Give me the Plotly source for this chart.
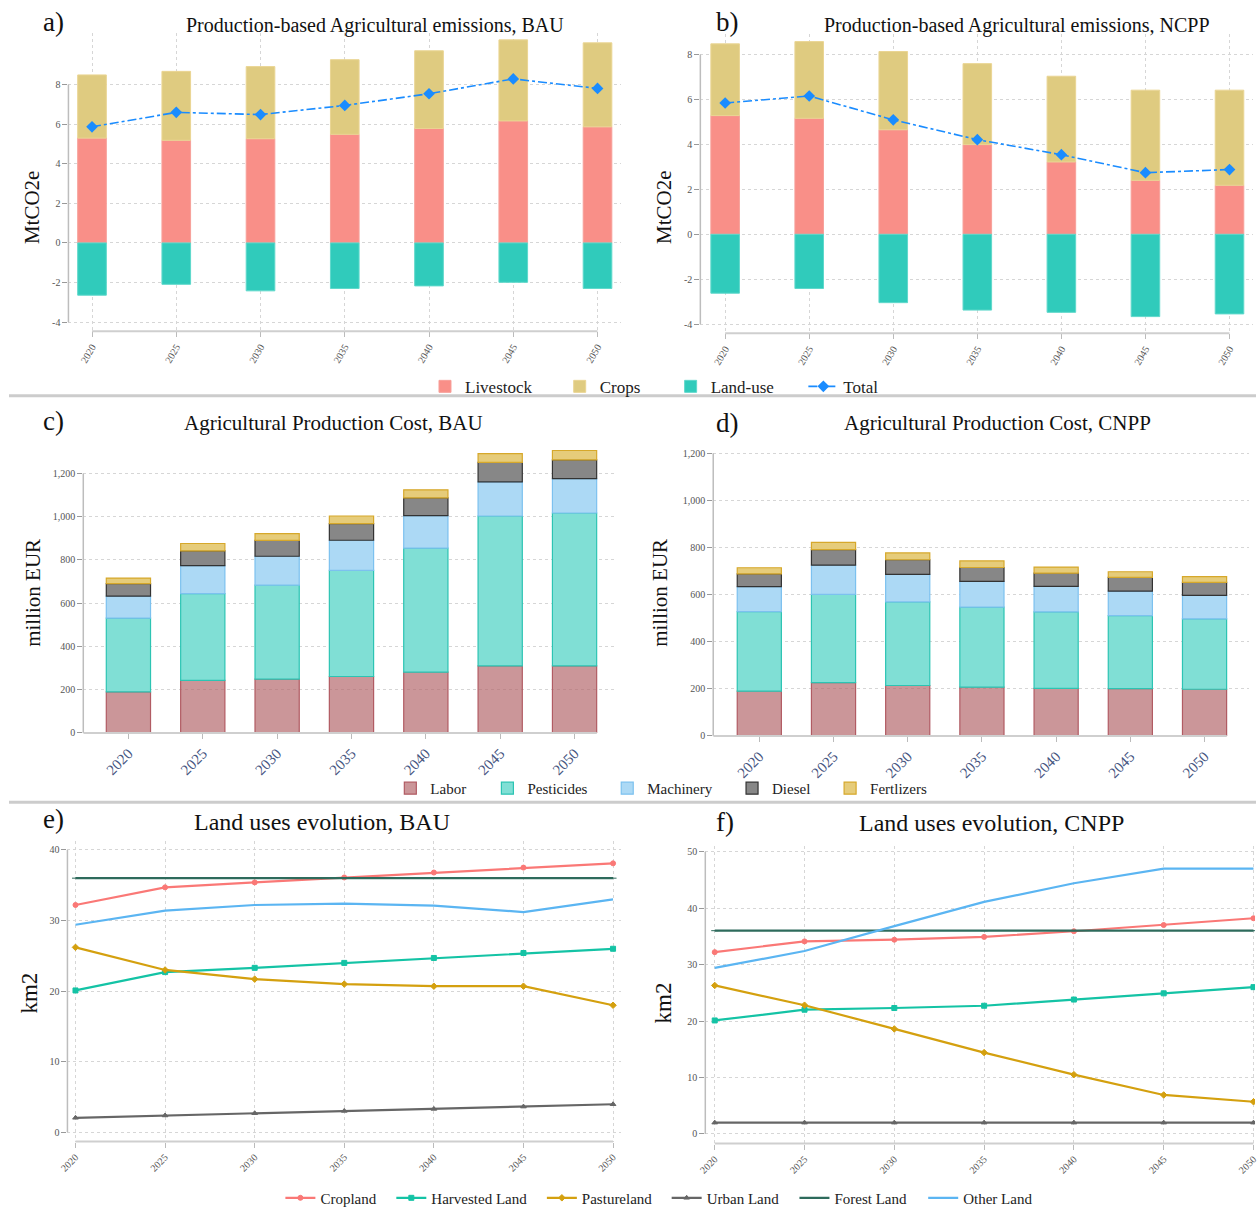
import plotly.graph_objects as go

W, H = 1259, 1215
FONT = "Liberation Serif"

years = ["2020", "2025", "2030", "2035", "2040", "2045", "2050"]

# a) Production-based Agricultural emissions, BAU (MtCO2e)
bau_livestock = [5.29, 5.18, 5.26, 5.48, 5.78, 6.16, 5.86]
bau_crops = [3.19, 3.48, 3.64, 3.77, 3.92, 4.09, 4.24]
bau_landuse = [-2.64, -2.09, -2.42, -2.30, -2.17, -1.99, -2.30]
bau_total = [5.86, 6.59, 6.48, 6.94, 7.53, 8.28, 7.80]

# b) Production-based Agricultural emissions, NCPP (MtCO2e)
ncpp_livestock = [5.28, 5.16, 4.65, 3.99, 3.22, 2.40, 2.18]
ncpp_crops = [3.19, 3.41, 3.48, 3.60, 3.81, 4.01, 4.23]
ncpp_landuse = [-2.62, -2.41, -3.04, -3.37, -3.47, -3.66, -3.54]
ncpp_total = [5.84, 6.15, 5.09, 4.21, 3.54, 2.74, 2.88]

# c) Agricultural Production Cost, BAU (million EUR)
bau_labor = [190, 243, 249, 261, 281, 310, 310]
bau_pesticides = [341, 401, 434, 491, 574, 693, 707]
bau_machinery = [102, 130, 134, 139, 150, 158, 159]
bau_diesel = [57, 68, 73, 77, 82, 90, 87]
bau_fertilizers = [26, 34, 32, 35, 37, 41, 43]

# d) Agricultural Production Cost, CNPP (million EUR)
cnpp_labor = [190, 226, 214, 207, 202, 201, 198]
cnpp_pesticides = [338, 375, 355, 340, 325, 310, 299]
cnpp_machinery = [106, 124, 117, 109, 108, 104, 100]
cnpp_diesel = [54, 66, 62, 59, 56, 58, 55]
cnpp_fertilizers = [26, 31, 29, 28, 26, 24, 24]

# e) Land uses evolution, BAU (km2)
bau_cropland = [32.2, 34.7, 35.4, 36.1, 36.8, 37.5, 38.1]
bau_harvested = [20.1, 22.7, 23.3, 24.0, 24.7, 25.4, 26.0]
bau_pasture = [26.2, 23.0, 21.7, 21.0, 20.7, 20.7, 18.0]
bau_urban = [2.06, 2.39, 2.71, 3.04, 3.32, 3.65, 3.98]
bau_forest = [36.0, 36.0, 36.0, 36.0, 36.0, 36.0, 36.0]
bau_other = [29.4, 31.4, 32.2, 32.4, 32.1, 31.2, 33.0]

# f) Land uses evolution, CNPP (km2)
cnpp_cropland = [32.2, 34.1, 34.4, 34.9, 35.9, 37.0, 38.2]
cnpp_harvested = [20.1, 22.0, 22.3, 22.7, 23.8, 24.9, 26.0]
cnpp_pasture = [26.3, 22.8, 18.6, 14.4, 10.5, 6.9, 5.7]
cnpp_urban = [2.0, 2.0, 2.0, 2.0, 2.0, 2.0, 2.0]
cnpp_forest = [36.0, 36.0, 36.0, 36.0, 36.0, 36.0, 36.0]
cnpp_other = [29.4, 32.4, 36.8, 41.1, 44.4, 47.0, 47.0]

# tick labels
emis_ticks = [8, 6, 4, 2, 0, -2, -4]
emis_ticktext = ["8", "6", "4", "2", "0", "-2", "-4"]
cost_ticks = [0, 200, 400, 600, 800, 1000, 1200]
cost_ticktext = ["0", "200", "400", "600", "800", "1,000", "1,200"]
land_e_ticks = [0, 10, 20, 30, 40]
land_f_ticks = [0, 10, 20, 30, 40, 50]

# colours
C_LIVE, C_CROP, C_LAND, C_TOT = "#f98f88", "#dfcb80", "#30cbbb", "#1a8cff"
COST_FILL = ["rgba(178,100,105,0.68)", "#80dfd5", "#acd9f5", "#878787", "#e6cc7a"]
COST_LINE = ["#b15b63", "#2cc4b3", "#7cc1ef", "#333333", "#d6a82b"]
LAND_COL = ["#fa7876", "#14c3a5", "#d4a00f", "#666666", "#2e6b5c", "#5bb5f2"]


def px_x(p):
    return p / W


def px_y(p):
    return 1 - p / H


fig = go.Figure()

# legend entries: (pixel x of text start, pixel y, font size) -> one legend per entry
legend_specs = []


def new_legend(text_x, y, size):
    legend_specs.append((text_x, y, size))
    k = len(legend_specs)
    return "legend" if k == 1 else "legend%d" % k


# ---------- a/b emissions ----------
emis_leg = [new_legend(x, 389, 17) for x in (460, 596, 708, 842)]


def emissions(ax, livestock, crops, landuse, total, show):
    xa, ya = "x" + ax, "y" + ax
    fig.add_trace(go.Bar(x=years, y=livestock, name="Livestock", marker=dict(color=C_LIVE, line=dict(color="#f7a09a", width=1)),
                         width=0.34, xaxis=xa, yaxis=ya, showlegend=show, legend=emis_leg[0]))
    fig.add_trace(go.Bar(x=years, y=crops, name="Crops", marker=dict(color=C_CROP, line=dict(color="#ead593", width=1)),
                         width=0.34, xaxis=xa, yaxis=ya, showlegend=show, legend=emis_leg[1]))
    fig.add_trace(go.Bar(x=years, y=landuse, name="Land-use", marker=dict(color=C_LAND, line=dict(color="#5fd8cb", width=1)),
                         width=0.34, xaxis=xa, yaxis=ya, showlegend=show, legend=emis_leg[2]))
    fig.add_trace(go.Scatter(x=years, y=total, name="Total", mode="lines+markers",
                             line=dict(color=C_TOT, width=1.6, dash="dashdot"),
                             marker=dict(symbol="diamond", size=9, color=C_TOT),
                             xaxis=xa, yaxis=ya, showlegend=show, legend=emis_leg[3]))


emissions("", bau_livestock, bau_crops, bau_landuse, bau_total, True)
emissions("2", ncpp_livestock, ncpp_crops, ncpp_landuse, ncpp_total, False)

# ---------- c/d cost ----------
cost_names = ["Labor", "Pesticides", "Machinery", "Diesel", "Fertlizers"]
cost_leg = [new_legend(x, 794, 15) for x in (425, 523, 644, 770, 869)]


def cost(ax, series, show):
    for i, (nm, vals) in enumerate(zip(cost_names, series)):
        fig.add_trace(go.Bar(x=years, y=vals, name=nm, width=0.595,
                             marker=dict(color=COST_FILL[i], line=dict(color=COST_LINE[i], width=1.2)),
                             xaxis="x" + ax, yaxis="y" + ax, showlegend=show, legend=cost_leg[i]))


cost("3", [bau_labor, bau_pesticides, bau_machinery, bau_diesel, bau_fertilizers], True)
cost("4", [cnpp_labor, cnpp_pesticides, cnpp_machinery, cnpp_diesel, cnpp_fertilizers], False)

# ---------- e/f land ----------
land_names = ["Cropland", "Harvested Land", "Pastureland", "Urban Land", "Forest Land", "Other Land"]
land_sym = ["circle", "square", "diamond", "triangle-up", "line-ew", "circle"]
land_leg = [new_legend(x, 1207, 15) for x in (314, 426, 578, 704, 833, 963)]


def land(ax, series, show):
    for i, (nm, vals) in enumerate(zip(land_names, series)):
        mode = "lines" if nm == "Other Land" else "lines+markers"
        fig.add_trace(go.Scatter(x=years, y=vals, name=nm, mode=mode,
                                 line=dict(color=LAND_COL[i], width=2.2),
                                 marker=dict(symbol=land_sym[i], size=5, color=LAND_COL[i],
                                             line=dict(color=LAND_COL[i], width=1)),
                                 xaxis="x" + ax, yaxis="y" + ax, showlegend=show, legend=land_leg[i]))


land("5", [bau_cropland, bau_harvested, bau_pasture, bau_urban, bau_forest, bau_other], True)
land("6", [cnpp_cropland, cnpp_harvested, cnpp_pasture, cnpp_urban, cnpp_forest, cnpp_other], False)

# ---------- axes ----------
GRID = dict(gridcolor="#d6d6d6", griddash="dot", gridwidth=1)
TICKF = dict(family=FONT, size=10, color="#555555")


def xax(dom, rng, angle, tf, grid):
    d = dict(domain=[px_x(dom[0]), px_x(dom[1])], range=rng, type="category", showline=False,
             ticks="outside", ticklen=5, tickcolor="#bbbbbb", tickangle=angle, tickfont=tf,
             showgrid=grid, zeroline=False, fixedrange=True)
    if grid:
        d.update(GRID)
    return d


def yax(anchor, dom, rng, tv, tt):
    d = dict(domain=[px_y(dom[1]), px_y(dom[0])], range=rng, tickvals=tv, ticktext=tt,
             ticks="outside", ticklen=5, tickcolor="#999999", tickfont=TICKF, showline=False,
             showgrid=True, zeroline=False, anchor=anchor, fixedrange=True)
    d.update(GRID)
    return d


COSTF = dict(family=FONT, size=15, color="#46557f")

fig.update_layout(
    xaxis=dict(xax((60, 618), [-0.28, 6.28], -60, TICKF, True), anchor="y"),
    yaxis=yax("x", (32, 333), [-4.46, 10.61], emis_ticks, emis_ticktext),
    xaxis2=dict(xax((698, 1256), [-0.295, 6.28], -60, TICKF, True), anchor="y2"),
    yaxis2=yax("x2", (33, 335), [-4.40, 8.92], emis_ticks, emis_ticktext),
    xaxis3=dict(xax((75, 614), [-0.607, 6.573], -45, COSTF, False), anchor="y3"),
    yaxis3=yax("x3", (448, 738), [0, 1330], cost_ticks, cost_ticktext),
    xaxis4=dict(xax((711, 1252), [-0.621, 6.6], -45, COSTF, False), anchor="y4"),
    yaxis4=yax("x4", (452, 741), [0, 1217], cost_ticks, cost_ticktext),
    xaxis5=dict(xax((59, 618), [-0.09, 6.09], -45, TICKF, True), anchor="y5"),
    yaxis5=yax("x5", (847, 1150), [-1.3, 41.26], land_e_ticks, [str(v) for v in land_e_ticks]),
    xaxis6=dict(xax((703, 1258), [-0.105, 6.017], -45, TICKF, True), anchor="y6"),
    yaxis6=yax("x6", (852, 1152), [-1.7, 51.0], land_f_ticks, [str(v) for v in land_f_ticks]),
)

# ---------- axis lines (shapes) ----------
shapes = []
AX = "#bdbdbd"


def vline(ax, y0, y1):
    shapes.append(dict(type="line", xref=("x" + ax) + " domain", x0=0, x1=0, yref="y" + ax, y0=y0, y1=y1,
                       line=dict(color=AX, width=1.5)))


def hline(ax, x0, x1):
    shapes.append(dict(type="line", xref="x" + ax, x0=x0, x1=x1, yref="y" + ax + " domain", y0=0, y1=0,
                       line=dict(color="#cfcfcf", width=2)))


vline("", -4, 8); hline("", 0, 6)
vline("2", -4, 8); hline("2", 0, 6)
vline("3", 0, 1200); hline("3", -0.607, 6.3)
vline("4", 0, 1200); hline("4", -0.621, 6.3)
vline("5", 0, 40); hline("5", 0, 6)
vline("6", 0, 50); hline("6", 0, 6)

# separators
for yy in (398, 808):
    shapes.append(dict(type="line", xref="paper", yref="paper", x0=0, x1=1, y0=px_y(yy), y1=px_y(yy),
                       line=dict(color="#cccccc", width=3)))

fig.update_layout(shapes=shapes)

# ---------- annotations ----------
ann = []


def text(t, x, y, size, xanchor="center", angle=0, color="#111111"):
    ann.append(dict(text=t, x=px_x(x), y=px_y(y), xref="paper", yref="paper", showarrow=False,
                    xanchor=xanchor, yanchor="middle", textangle=angle,
                    font=dict(family=FONT, size=size, color=color)))


text("a)", 32, 21, 27, "left")
text("Production-based Agricultural emissions, BAU", 370, 25, 20)
text("b)", 712, 21, 27, "left")
text("Production-based Agricultural emissions, NCPP", 1018, 25, 20)
text("c)", 32, 423, 27, "left")
text("Agricultural Production Cost, BAU", 328, 426, 21)
text("d)", 712, 426, 27, "left")
text("Agricultural Production Cost, CNPP", 998, 426, 21)
text("e)", 32, 825, 27, "left")
text("Land uses evolution, BAU", 316, 828, 24)
text("f)", 712, 828, 27, "left")
text("Land uses evolution, CNPP", 992, 829, 24)

text("MtCO2e", 24, 208, 21, angle=-90)
text("MtCO2e", 662, 208, 21, angle=-90)
text("million EUR", 24, 597, 21, angle=-90)
text("million EUR", 657, 597, 21, angle=-90)
text("km2", 21, 1000, 23, angle=-90)
text("km2", 661, 1010, 23, angle=-90)

fig.update_layout(annotations=ann)

legend_layout = {}
for k, (tx, ty, fs) in enumerate(legend_specs, start=1):
    key = "legend" if k == 1 else "legend%d" % k
    legend_layout[key] = dict(orientation="h", xanchor="left", yanchor="middle", bgcolor="rgba(0,0,0,0)",
                              x=px_x(tx - 40), y=px_y(ty), itemclick=False, itemdoubleclick=False,
                              font=dict(family=FONT, size=fs, color="#222"))

fig.update_layout(
    width=W, height=H, autosize=False,
    margin=dict(l=0, r=0, t=0, b=0),
    paper_bgcolor="white", plot_bgcolor="white",
    barmode="relative",
    font=dict(family=FONT, color="#222222"),
    **legend_layout,
)

fig.write_html("out.html", config={"displayModeBar": False},
               post_script="document.body.style.margin='0';document.body.style.overflow='hidden';")
